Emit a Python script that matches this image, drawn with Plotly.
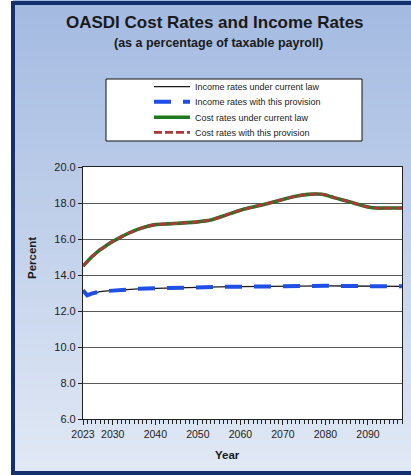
import plotly.graph_objects as go

# ---- data (percent of taxable payroll) ----
cost_years = [2023, 2024, 2025, 2026, 2027, 2028, 2029, 2030, 2032, 2034, 2036, 2038,
              2040, 2043, 2046, 2050, 2053, 2056, 2060, 2063, 2066, 2070, 2073, 2076,
              2078, 2080, 2082, 2084, 2086, 2088, 2090, 2092, 2095, 2098]
cost_current_law = [14.5, 14.75, 15.0, 15.2, 15.4, 15.55, 15.72, 15.87, 16.12, 16.35, 16.55, 16.7,
                    16.8, 16.84, 16.88, 16.95, 17.05, 17.28, 17.6, 17.78, 17.95, 18.2, 18.38, 18.48,
                    18.5, 18.45, 18.3, 18.17, 18.04, 17.9, 17.78, 17.72, 17.72, 17.72]
cost_provision = [14.5, 14.75, 15.0, 15.2, 15.4, 15.55, 15.72, 15.87, 16.12, 16.35, 16.55, 16.7,
                  16.8, 16.84, 16.88, 16.95, 17.05, 17.28, 17.6, 17.78, 17.95, 18.2, 18.38, 18.48,
                  18.5, 18.45, 18.3, 18.17, 18.04, 17.9, 17.78, 17.72, 17.72, 17.72]

income_years = [2023, 2024, 2025, 2026, 2027, 2028, 2030, 2033, 2036, 2040, 2045, 2050,
                2055, 2060, 2065, 2070, 2075, 2080, 2085, 2090, 2095, 2098]
income_current_law = [13.15, 12.87, 12.97, 13.04, 13.08, 13.1, 13.14, 13.19, 13.23, 13.26, 13.3, 13.32,
                      13.34, 13.35, 13.37, 13.39, 13.4, 13.4, 13.39, 13.38, 13.37, 13.37]
income_provision = [13.15, 12.87, 12.97, 13.04, 13.08, 13.1, 13.14, 13.19, 13.23, 13.26, 13.3, 13.32,
                    13.34, 13.35, 13.37, 13.39, 13.4, 13.4, 13.39, 13.38, 13.37, 13.37]

series_names = ["Income rates under current law", "Income rates with this provision",
                "Cost rates under current law", "Cost rates with this provision"]

x_tick_values = [2023, 2030, 2040, 2050, 2060, 2070, 2080, 2090]
x_tick_labels = ["2023", "2030", "2040", "2050", "2060", "2070", "2080", "2090"]
y_tick_values = [6, 8, 10, 12, 14, 16, 18, 20]

# ---- page geometry (pixels) ----
W, H = 411, 475
ML, MR, MT, MB = 83, 9, 167, 56
PW, PH = W - ML - MR, H - MT - MB
FONT = "Liberation Sans, Arial, sans-serif"
NARROW = "Liberation Sans Narrow, Arial Narrow, Liberation Sans, sans-serif"


def px_x(p):
    return (p - ML) / PW


def px_y(p):
    return (H - MB - p) / PH


fig = go.Figure()

fig.add_trace(go.Scatter(x=income_years, y=income_current_law, mode="lines",
                         name=series_names[0], legend="legend",
                         line=dict(color="#1a1a1a", width=1.3)))
fig.add_trace(go.Scatter(x=income_years, y=income_provision, mode="lines",
                         name=series_names[1], legend="legend2",
                         line=dict(color="#1f4fe6", width=4, dash="17px,12px")))
fig.add_trace(go.Scatter(x=cost_years, y=cost_current_law, mode="lines",
                         name=series_names[2], legend="legend3",
                         line=dict(color="#1d7a1d", width=3.6, shape="spline", smoothing=0.6)))
fig.add_trace(go.Scatter(x=cost_years, y=cost_provision, mode="lines",
                         name=series_names[3], legend="legend4",
                         line=dict(color="#a83a3a", width=2.8, dash="8px,3px",
                                   shape="spline", smoothing=0.6)))

shapes = []
# vertical gradient background, light blue fading lighter toward the bottom
top_c = (163, 186, 225)
bot_c = (226, 233, 245)
step = 5
for y0 in range(0, H, step):
    t = y0 / H
    c = tuple(round(top_c[i] + (bot_c[i] - top_c[i]) * t) for i in range(3))
    shapes.append(dict(type="rect", xref="paper", yref="paper", layer="below",
                       x0=px_x(13), x1=px_x(W + 5), y0=px_y(y0), y1=px_y(y0 + step + 1),
                       fillcolor="rgb(%d,%d,%d)" % c, line=dict(width=0)))
# white plotting area
shapes.append(dict(type="rect", xref="paper", yref="paper", layer="below",
                   x0=0, x1=1, y0=0, y1=1, fillcolor="white", line=dict(width=0)))
# navy frame around the chart
shapes.append(dict(type="rect", xref="paper", yref="paper", layer="above",
                   x0=px_x(13), x1=px_x(W + 20), y0=px_y(473), y1=px_y(3),
                   fillcolor="rgba(0,0,0,0)", line=dict(color="#15306e", width=4)))
# legend box
shapes.append(dict(type="rect", xref="paper", yref="paper", layer="below",
                   x0=px_x(106), x1=px_x(362), y0=px_y(141), y1=px_y(79),
                   fillcolor="white", line=dict(color="#111111", width=1)))

annotations = [
    dict(text="<b>OASDI Cost Rates and Income Rates</b>", x=px_x(215), y=px_y(22),
         xref="paper", yref="paper", showarrow=False, xanchor="center", yanchor="middle",
         font=dict(family=FONT, size=17, color="#1a1a1a")),
    dict(text="<b>(as a percentage of taxable payroll)</b>", x=px_x(218), y=px_y(43),
         xref="paper", yref="paper", showarrow=False, xanchor="center", yanchor="middle",
         font=dict(family=FONT, size=12.5, color="#1a1a1a")),
    dict(text="<b>Percent</b>", x=px_x(32), y=px_y(258), textangle=-90,
         xref="paper", yref="paper", showarrow=False, xanchor="center", yanchor="middle",
         font=dict(family=FONT, size=11.5, color="#1a1a1a")),
    dict(text="<b>Year</b>", x=px_x(227), y=px_y(455),
         xref="paper", yref="paper", showarrow=False, xanchor="center", yanchor="middle",
         font=dict(family=FONT, size=11.5, color="#1a1a1a")),
]

# one single-entry legend per series so the rows can sit close together
legend_rows = [86.7, 101.7, 117.3, 132.3]
legend_style = dict(bgcolor="rgba(0,0,0,0)", borderwidth=0, xanchor="left", yanchor="middle",
                    font=dict(family=NARROW, size=9, color="#222222"), itemwidth=36)
legends = {}
for i, row in enumerate(legend_rows):
    key = "legend" if i == 0 else "legend%d" % (i + 1)
    legends[key] = dict(legend_style, x=px_x(149), y=px_y(row))

fig.update_layout(
    width=W, height=H,
    margin=dict(l=ML, r=MR, t=MT, b=MB, pad=0),
    paper_bgcolor="white",
    plot_bgcolor="white",
    shapes=shapes,
    annotations=annotations,
    showlegend=True,
    xaxis=dict(range=[2023, 2098], tickmode="array", tickvals=x_tick_values,
               ticktext=x_tick_labels, ticks="outside", ticklen=5, tickcolor="#222",
               tickwidth=1, showgrid=False, zeroline=False,
               showline=True, linecolor="#222", linewidth=1.2, mirror=True,
               tickfont=dict(family=FONT, size=10.5, color="#222"),
               minor=dict(dtick=1, tick0=2023, ticks="outside", ticklen=4,
                          tickcolor="#222", showgrid=False)),
    yaxis=dict(range=[6, 20], tickmode="array", tickvals=y_tick_values,
               tickformat=".1f", ticks="outside", ticklen=4, tickcolor="#222",
               showgrid=True, gridcolor="#5a5a5a", gridwidth=1, zeroline=False,
               showline=True, linecolor="#222", linewidth=1.2, mirror=True,
               tickfont=dict(family=FONT, size=11, color="#222")),
    **legends,
)

fig.write_html("out.html")
